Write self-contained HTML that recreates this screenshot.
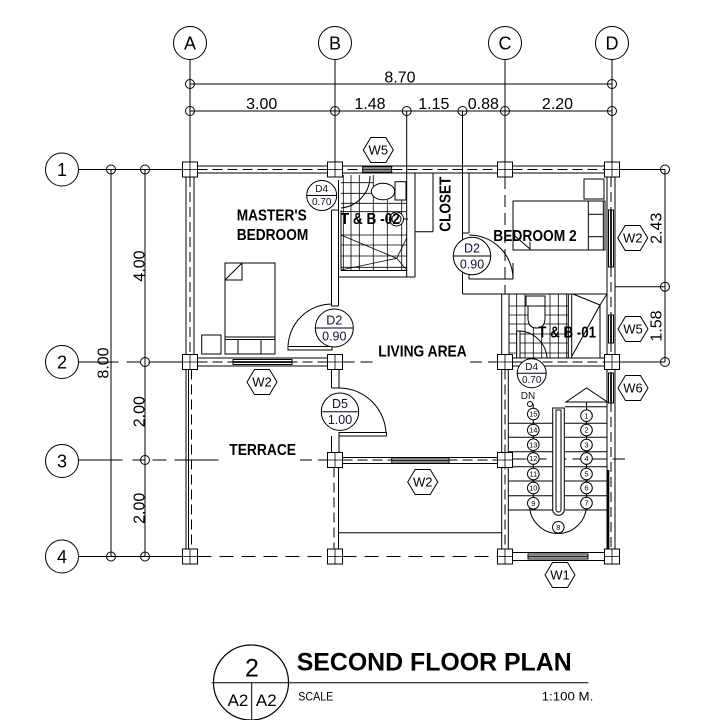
<!DOCTYPE html>
<html><head><meta charset="utf-8"><style>html,body{margin:0;padding:0;background:#fff}svg{display:block}</style></head>
<body>
<svg width="703" height="720" viewBox="0 0 703 720" xmlns="http://www.w3.org/2000/svg" font-family="'Liberation Sans', Arial, sans-serif">
<rect width="703" height="720" fill="#fff"/>
<g stroke="#000" stroke-width="1" fill="none">
<!-- top grid bubbles -->
<circle cx="190" cy="43" r="16.5"/><circle cx="335" cy="43" r="16.5"/><circle cx="505" cy="43" r="16.5"/><circle cx="612" cy="43" r="16.5"/>
<line x1="190" y1="59.5" x2="190" y2="162"/><line x1="335" y1="59.5" x2="335" y2="162"/><line x1="505" y1="59.5" x2="505" y2="162"/><line x1="612" y1="59.5" x2="612" y2="162"/>
<line x1="406.7" y1="111" x2="406.7" y2="277"/><line x1="462.5" y1="111" x2="462.5" y2="294"/>
<!-- dim lines top -->
<line x1="190" y1="84" x2="612" y2="84"/><line x1="190" y1="111" x2="612" y2="111"/>
<circle cx="190" cy="84" r="4.5"/><circle cx="612" cy="84" r="4.5"/>
<circle cx="190" cy="111" r="4.5"/><circle cx="335" cy="111" r="4.5"/><circle cx="406.7" cy="111" r="4.5"/><circle cx="462.5" cy="111" r="4.5"/><circle cx="505" cy="111" r="4.5"/><circle cx="612" cy="111" r="4.5"/>
<!-- left grid bubbles -->
<circle cx="62" cy="169.5" r="16.5"/><circle cx="62" cy="362" r="16.5"/><circle cx="62" cy="461" r="16.5"/><circle cx="62" cy="556.5" r="16.5"/>
<line x1="78.5" y1="169.5" x2="182.5" y2="169.5"/>
<line x1="78.5" y1="556.5" x2="182.5" y2="556.5"/>
<line x1="78.5" y1="362" x2="182.5" y2="362" stroke-dasharray="40 8 14 8"/>
<line x1="78.5" y1="460" x2="222" y2="460" stroke-dasharray="44 10 12 8 14 8"/>
<line x1="300" y1="460" x2="327.5" y2="460" stroke-dasharray="12 6"/>
<!-- left dims -->
<line x1="111" y1="169.5" x2="111" y2="556.5"/><line x1="145" y1="169.5" x2="145" y2="556.5"/>
<circle cx="111" cy="169.5" r="4.5"/><circle cx="111" cy="556.5" r="4.5"/>
<circle cx="145" cy="169.5" r="4.5"/><circle cx="145" cy="362" r="4.5"/><circle cx="145" cy="460" r="4.5"/><circle cx="145" cy="556.5" r="4.5"/>
<!-- right dims -->
<line x1="619.5" y1="169.5" x2="665" y2="169.5"/><line x1="615" y1="286.7" x2="665" y2="286.7"/><line x1="619.5" y1="362" x2="665" y2="362"/>
<line x1="665" y1="169.5" x2="665" y2="362"/>
<circle cx="665" cy="169.5" r="4.5"/><circle cx="665" cy="286.7" r="4.5"/><circle cx="665" cy="362" r="4.5"/>

<!-- top wall row 1 -->
<line x1="197.5" y1="166" x2="604.5" y2="166"/><line x1="197.5" y1="173" x2="604.5" y2="173"/>
<line x1="197.5" y1="169.5" x2="604.5" y2="169.5" stroke-dasharray="10 5"/>
<!-- left wall A -->
<line x1="186" y1="177" x2="186" y2="549"/><line x1="194" y1="177" x2="194" y2="354.5"/>
<line x1="190" y1="177" x2="190" y2="354.5" stroke-dasharray="10 5"/>
<line x1="188.5" y1="369.5" x2="188.5" y2="549"/>
<line x1="191.5" y1="369.5" x2="191.5" y2="549" stroke-dasharray="10 5"/>
<!-- right wall D -->
<line x1="607" y1="177" x2="607" y2="549"/><line x1="615" y1="177" x2="615" y2="549"/>
<line x1="611" y1="177" x2="611" y2="549" stroke-dasharray="10 5"/>
<line x1="608.3" y1="470" x2="608.3" y2="553" stroke-width="2"/>
<!-- row 2 wall A-B -->
<line x1="197.5" y1="358" x2="327.5" y2="358"/><line x1="197.5" y1="366" x2="327.5" y2="366"/>
<line x1="197.5" y1="362" x2="327.5" y2="362" stroke-dasharray="10 5"/>
<!-- row 2 dashed B-C -->
<line x1="342.5" y1="362" x2="376" y2="362" stroke-dasharray="12 6"/>
<line x1="470" y1="362" x2="497.5" y2="362" stroke-dasharray="12 6"/>
<!-- row 2 wall C-D -->
<line x1="512.5" y1="358" x2="604.5" y2="358"/><line x1="512.5" y1="366" x2="604.5" y2="366"/>
<line x1="512.5" y1="362" x2="604.5" y2="362" stroke-dasharray="10 5"/>
<!-- row 3 wall B-C -->
<line x1="342.5" y1="457.5" x2="497.5" y2="457.5"/><line x1="342.5" y1="463.5" x2="497.5" y2="463.5"/>
<line x1="342.5" y1="460" x2="497.5" y2="460" stroke-dasharray="10 5"/>
<!-- row 3 dashed through stairs -->
<line x1="512.5" y1="459" x2="625" y2="459" stroke-dasharray="14 6"/>
<!-- row 4 -->
<line x1="197.5" y1="556.5" x2="327.5" y2="556.5" stroke-dasharray="14 8"/>
<line x1="342.5" y1="556.5" x2="497.5" y2="556.5" stroke-dasharray="14 8"/>
<line x1="512.5" y1="552.5" x2="604.5" y2="552.5"/><line x1="512.5" y1="560.5" x2="604.5" y2="560.5"/>
<!-- B line walls -->
<line x1="331.5" y1="210" x2="331.5" y2="306"/><line x1="338.5" y1="180" x2="338.5" y2="306"/>
<line x1="331.5" y1="210" x2="338.5" y2="210"/><line x1="331.5" y1="306" x2="338.5" y2="306"/>
<line x1="331.5" y1="369.5" x2="331.5" y2="388"/><line x1="339" y1="369.5" x2="339" y2="388"/>
<line x1="331.5" y1="388" x2="339" y2="388"/>
<line x1="331.5" y1="436" x2="331.5" y2="452.5"/><line x1="339" y1="436" x2="339" y2="452.5"/>
<line x1="338.5" y1="467.5" x2="338.5" y2="549"/>
<line x1="334" y1="467.5" x2="334" y2="549" stroke-dasharray="10 5"/>
<line x1="339" y1="532.7" x2="501.7" y2="532.7"/>
<!-- C line walls -->
<line x1="505" y1="177" x2="505" y2="294" stroke-dasharray="12 6"/>
<line x1="501.7" y1="294" x2="501.7" y2="354.5"/><line x1="509" y1="294" x2="509" y2="354.5"/>
<line x1="501.7" y1="369.5" x2="501.7" y2="549"/><line x1="508.3" y1="369.5" x2="508.3" y2="549"/>
<line x1="505" y1="369.5" x2="505" y2="549" stroke-dasharray="10 5"/>

<!-- T&B-02 -->
<line x1="415" y1="173" x2="415" y2="277"/>
<line x1="338.5" y1="277" x2="415" y2="277"/><line x1="341" y1="270.5" x2="406.7" y2="270.5"/>
<line x1="341" y1="210" x2="341" y2="270.5"/>
<g stroke-width="0.8">
<line x1="343.3" y1="175" x2="343.3" y2="270"/><line x1="351" y1="175" x2="351" y2="270"/><line x1="359.3" y1="175" x2="359.3" y2="270"/><line x1="373.3" y1="175" x2="373.3" y2="270"/><line x1="387.3" y1="200" x2="387.3" y2="270"/><line x1="401.7" y1="200" x2="401.7" y2="270"/>
<line x1="341" y1="182.7" x2="373" y2="182.7"/><line x1="341" y1="193.3" x2="373" y2="193.3"/><line x1="341" y1="203.3" x2="406.7" y2="203.3"/><line x1="341" y1="211.7" x2="406.7" y2="211.7"/><line x1="341" y1="235" x2="406.7" y2="235"/><line x1="341" y1="245" x2="406.7" y2="245"/><line x1="341" y1="256" x2="406.7" y2="256"/><line x1="341" y1="267.3" x2="406.7" y2="267.3"/>
<line x1="341" y1="235" x2="396.7" y2="258.3"/><line x1="341" y1="270" x2="396.7" y2="258.3"/><line x1="396.7" y1="258.3" x2="406.7" y2="238"/><line x1="396.7" y1="258.3" x2="406.7" y2="270"/>
</g>
<rect x="395" y="181.7" width="11" height="18.3" fill="#fff"/>
<ellipse cx="383" cy="191.5" rx="11.7" ry="8.3" fill="#fff"/>
<circle cx="396.5" cy="219" r="7" fill="#fff"/><circle cx="396.5" cy="219" r="4.5"/>
<line x1="403" y1="219" x2="408" y2="219"/>
<path d="M370,176 A32,32 0 0 1 341,208"/>
<!-- closet -->
<line x1="415" y1="231.7" x2="433" y2="231.7"/><line x1="433" y1="173" x2="433" y2="231.7"/>
<!-- master bedroom furniture -->
<rect x="225" y="263" width="50" height="91" fill="#fff"/>
<rect x="225" y="263" width="17" height="17"/><line x1="242" y1="263" x2="225" y2="280"/>
<line x1="225" y1="337" x2="275" y2="337"/><line x1="225" y1="339.5" x2="275" y2="339.5"/>
<rect x="238" y="339.5" width="23" height="14.5"/>
<rect x="201.7" y="335" width="19.3" height="19"/>
<!-- master door D2 -->
<path d="M288,348 A44,44 0 0 1 332,304"/>
<rect x="288" y="346.5" width="44" height="3.5" fill="#fff"/>
<!-- bedroom 2 -->
<line x1="469" y1="173" x2="469" y2="233"/><line x1="462.5" y1="233" x2="469" y2="233"/>
<path d="M469,235 A44,44 0 0 1 513,279"/>
<line x1="513" y1="263" x2="513" y2="279"/>
<line x1="469" y1="279" x2="513" y2="279"/><line x1="469" y1="265" x2="469" y2="279"/>
<line x1="462.5" y1="294" x2="607" y2="294"/>
<rect x="513" y="201" width="92" height="49" fill="#fff"/>
<line x1="588.3" y1="201" x2="588.3" y2="250"/><line x1="603.3" y1="201" x2="603.3" y2="250"/>
<line x1="588.3" y1="214.3" x2="603.3" y2="214.3"/><line x1="588.3" y1="236.7" x2="603.3" y2="236.7"/>
<line x1="530" y1="241.7" x2="530" y2="250"/><line x1="515" y1="236" x2="530" y2="249"/>
<rect x="584" y="179" width="20" height="20"/>
<!-- T&B-01 -->
<g stroke-width="0.8">
<line x1="516.7" y1="294" x2="516.7" y2="358"/><line x1="525" y1="294" x2="525" y2="358"/><line x1="533.3" y1="328" x2="533.3" y2="358"/><line x1="541.7" y1="328" x2="541.7" y2="358"/><line x1="550" y1="294" x2="550" y2="358"/><line x1="558.3" y1="294" x2="558.3" y2="358"/><line x1="566.7" y1="294" x2="566.7" y2="358"/>
<line x1="509" y1="306" x2="568" y2="306"/><line x1="509" y1="315" x2="568" y2="315"/><line x1="509" y1="324" x2="568" y2="324"/><line x1="509" y1="334" x2="568" y2="334"/><line x1="509" y1="343" x2="568" y2="343"/><line x1="509" y1="353" x2="568" y2="353"/>
</g>
<line x1="568.3" y1="294" x2="568.3" y2="358"/><line x1="571.7" y1="294" x2="571.7" y2="358"/>
<line x1="573" y1="294" x2="600" y2="305"/><line x1="600" y1="305" x2="607" y2="294"/><line x1="600" y1="305" x2="572" y2="356"/><line x1="600" y1="305" x2="600" y2="358"/>
<rect x="526" y="296" width="19" height="10" fill="#fff"/>
<path d="M528,306 L528,318 Q528,328 536.5,328 Q545,328 545,318 L545,306 Z" fill="#fff"/>
<rect x="516.7" y="331" width="3.3" height="27" fill="#fff"/>
<path d="M520,331 A29,29 0 0 1 547,358"/>
<!-- terrace door D5 -->
<path d="M339,388 A47,47 0 0 1 386,435"/>
<rect x="339" y="432.5" width="47.5" height="3.5" fill="#fff"/>
<!-- stairs -->
<line x1="565" y1="406.7" x2="607" y2="406.7"/>
<line x1="508.3" y1="423.3" x2="552.7" y2="423.3"/><line x1="565" y1="423.3" x2="607" y2="423.3"/>
<line x1="508.3" y1="437.3" x2="552.7" y2="437.3"/><line x1="565" y1="437.3" x2="607" y2="437.3"/>
<line x1="508.3" y1="451.7" x2="552.7" y2="451.7"/><line x1="565" y1="451.7" x2="607" y2="451.7"/>
<line x1="508.3" y1="466.7" x2="552.7" y2="466.7"/><line x1="565" y1="466.7" x2="607" y2="466.7"/>
<line x1="508.3" y1="481" x2="552.7" y2="481"/><line x1="565" y1="481" x2="607" y2="481"/>
<line x1="508.3" y1="495.7" x2="552.7" y2="495.7"/><line x1="565" y1="495.7" x2="607" y2="495.7"/>
<line x1="508.3" y1="510" x2="552.7" y2="510"/><line x1="565" y1="510" x2="607" y2="510"/>
<path d="M529.5,505 A28.5,28.5 0 0 0 586.5,505"/>
<line x1="533.3" y1="404" x2="533.3" y2="505"/><line x1="586.5" y1="388" x2="586.5" y2="505"/>
<path d="M552.7,408 V509.5 A5.8,5.8 0 0 0 564.3,509.5 V408 Z" fill="#fff"/>
<path d="M556,410 V509.5 A2.5,2.5 0 0 0 561,509.5 V410 Z"/>
<polygon points="566,402 586.5,388 607.5,402" fill="#fff"/>
<circle cx="530" cy="404" r="2.5" fill="#fff"/>
</g>

<!-- windows -->
<g stroke="#000" fill="#fff">
<rect x="362.7" y="167" width="29" height="5"/>
<rect x="233" y="359.5" width="59" height="5"/>
<rect x="391.7" y="458" width="57.3" height="5"/>
<rect x="528" y="554" width="60" height="5"/>
<rect x="608.5" y="210" width="5" height="57"/>
<rect x="608.5" y="315" width="5" height="28"/>
<rect x="608.5" y="373" width="5" height="30"/>
</g>
<g stroke="#222" stroke-width="2">
<line x1="362.7" y1="169.5" x2="391.7" y2="169.5"/>
<line x1="233" y1="362" x2="292" y2="362"/>
<line x1="391.7" y1="460.5" x2="449" y2="460.5"/>
<line x1="528" y1="556.5" x2="588" y2="556.5"/>
<line x1="611" y1="210" x2="611" y2="267"/>
<line x1="611" y1="315" x2="611" y2="343"/>
<line x1="611" y1="373" x2="611" y2="403"/>
</g>

<!-- columns -->
<g stroke="#000" fill="#fff">
<rect x="182.5" y="162" width="15" height="15"/><rect x="327.5" y="162" width="15" height="15"/><rect x="497.5" y="162" width="15" height="15"/><rect x="604.5" y="162" width="15" height="15"/>
<rect x="182.5" y="354.5" width="15" height="15"/><rect x="327.5" y="354.5" width="15" height="15"/><rect x="497.5" y="354.5" width="15" height="15"/><rect x="604.5" y="354.5" width="15" height="15"/>
<rect x="327.5" y="452.5" width="15" height="15"/><rect x="497.5" y="452.5" width="15" height="15"/>
<rect x="182.5" y="549" width="15" height="15"/><rect x="327.5" y="549" width="15" height="15"/><rect x="497.5" y="549" width="15" height="15"/><rect x="604.5" y="549" width="15" height="15"/>
</g>
<g stroke="#000" stroke-width="0.8">
<path d="M190,162v15M182.5,169.5h15M335,162v15M327.5,169.5h15M505,162v15M497.5,169.5h15M612,162v15M604.5,169.5h15"/>
<path d="M190,354.5v15M182.5,362h15M335,354.5v15M327.5,362h15M505,354.5v15M497.5,362h15M612,354.5v15M604.5,362h15"/>
<path d="M335,452.5v15M327.5,460h15M505,452.5v15M497.5,460h15"/>
<path d="M190,549v15M182.5,556.5h15M335,549v15M327.5,556.5h15M505,549v15M497.5,556.5h15M612,549v15M604.5,556.5h15"/>
</g>

<!-- door tags -->
<g stroke="#000" fill="#fff">
<circle cx="321.7" cy="195.5" r="15"/><circle cx="334.3" cy="328" r="19"/><circle cx="472" cy="256" r="18.7"/><circle cx="340" cy="411.7" r="18.7"/><circle cx="531.7" cy="373.3" r="14.5"/>
</g>
<g stroke="#000">
<line x1="306.7" y1="195.5" x2="336.7" y2="195.5"/><line x1="315.3" y1="328" x2="353.3" y2="328"/><line x1="453.3" y1="256" x2="490.7" y2="256"/><line x1="321.3" y1="411.7" x2="358.7" y2="411.7"/><line x1="517.2" y1="373.3" x2="546.2" y2="373.3"/>
</g>
<g fill="#111133" text-anchor="middle">
<text x="321.7" y="192" font-size="10">D4</text><text x="321.7" y="205" font-size="10">0.70</text>
<text x="334.3" y="324.5" font-size="12.5">D2</text><text x="334.3" y="340.5" font-size="12.5">0.90</text>
<text x="472" y="252.5" font-size="12.5">D2</text><text x="472" y="268.5" font-size="12.5">0.90</text>
<text x="340" y="408" font-size="12.5">D5</text><text x="340" y="424" font-size="12.5">1.00</text>
<text x="531.7" y="370" font-size="10">D4</text><text x="531.7" y="383" font-size="10">0.70</text>
<text x="528" y="399" font-size="10">DN</text>
</g>

<!-- window hex tags -->
<g stroke="#000" fill="#fff">
<polygon points="363.3,150 370.8,137.5 385.8,137.5 393.3,150 385.8,162.5 370.8,162.5"/>
<polygon points="247,382 254.5,369.5 269.5,369.5 277,382 269.5,394.5 254.5,394.5"/>
<polygon points="407.7,482 415.2,469.5 430.2,469.5 437.7,482 430.2,494.5 415.2,494.5"/>
<polygon points="617.7,238 625.2,225.5 640.2,225.5 647.7,238 640.2,250.5 625.2,250.5"/>
<polygon points="618,329 625.5,316.5 640.5,316.5 648,329 640.5,341.5 625.5,341.5"/>
<polygon points="618,388 625.5,375.5 640.5,375.5 648,388 640.5,400.5 625.5,400.5"/>
<polygon points="545,575 552.5,562.5 567.5,562.5 575,575 567.5,587.5 552.5,587.5"/>
</g>
<g fill="#000" text-anchor="middle" font-size="13">
<text x="378.3" y="154.5">W5</text><text x="262" y="386.5">W2</text><text x="422.7" y="486.5">W2</text><text x="632.7" y="242.5">W2</text><text x="633" y="333.5">W5</text><text x="633" y="392.5">W6</text><text x="560" y="579.5">W1</text>
</g>

<!-- stair numbers -->
<g stroke="#000" fill="#fff">
<circle cx="533.3" cy="414" r="5.8"/><circle cx="533.3" cy="430" r="5.8"/><circle cx="533.3" cy="444.7" r="5.8"/><circle cx="533.3" cy="458.5" r="5.8"/><circle cx="533.3" cy="474" r="5.8"/><circle cx="533.3" cy="488" r="5.8"/><circle cx="533.3" cy="503.3" r="5.8"/>
<circle cx="586.5" cy="415.7" r="5.8"/><circle cx="586.5" cy="430" r="5.8"/><circle cx="586.5" cy="445" r="5.8"/><circle cx="586.5" cy="458.5" r="5.8"/><circle cx="586.5" cy="474" r="5.8"/><circle cx="586.5" cy="488" r="5.8"/><circle cx="586.5" cy="503" r="5.8"/>
<circle cx="558.3" cy="527.3" r="5.8"/>
</g>
<g fill="#000" text-anchor="middle" font-size="7.5">
<text x="533.3" y="416.7">15</text><text x="533.3" y="432.7">14</text><text x="533.3" y="447.4">13</text><text x="533.3" y="461.2">12</text><text x="533.3" y="476.7">11</text><text x="533.3" y="490.7">10</text><text x="533.3" y="506">9</text>
<text x="586.5" y="418.4">1</text><text x="586.5" y="432.7">2</text><text x="586.5" y="447.7">3</text><text x="586.5" y="461.2">4</text><text x="586.5" y="476.7">5</text><text x="586.5" y="490.7">6</text><text x="586.5" y="505.7">7</text>
<text x="558.3" y="530">8</text>
</g>

<!-- grid labels -->
<g fill="#000" text-anchor="middle" font-size="18">
<text x="190" y="49.5">A</text><text x="335" y="49.5">B</text><text x="505" y="49.5">C</text><text x="612" y="49.5">D</text>
<text x="62" y="176">1</text><text x="62" y="368.5">2</text><text x="62" y="467.5">3</text><text x="62" y="563">4</text>
</g>
<!-- dimension text -->
<g fill="#000" text-anchor="middle" font-size="16">
<text x="400" y="82.5">8.70</text>
<text x="261.7" y="109">3.00</text><text x="370" y="109">1.48</text><text x="433.8" y="109">1.15</text><text x="483.3" y="109">0.88</text><text x="557.5" y="109">2.20</text>
<text transform="translate(144.5,266) rotate(-90)">4.00</text>
<text transform="translate(108.5,363) rotate(-90)">8.00</text>
<text transform="translate(144.5,411.7) rotate(-90)">2.00</text>
<text transform="translate(144.5,508.3) rotate(-90)">2.00</text>
<text transform="translate(661.7,228.3) rotate(-90)">2.43</text>
<text transform="translate(661.7,326) rotate(-90)">1.58</text>
</g>
<!-- room labels -->
<g fill="#000" font-weight="bold" font-size="16">
<text x="236.7" y="220.7" textLength="70" lengthAdjust="spacingAndGlyphs">MASTER'S</text>
<text x="236.7" y="240" textLength="71.6" lengthAdjust="spacingAndGlyphs">BEDROOM</text>
<text x="378.3" y="356.7" textLength="88.4" lengthAdjust="spacingAndGlyphs">LIVING AREA</text>
<text x="229.3" y="455" textLength="66.7" lengthAdjust="spacingAndGlyphs">TERRACE</text>
<text x="493.3" y="241" textLength="83.4" lengthAdjust="spacingAndGlyphs">BEDROOM 2</text>
<text x="340.7" y="224" textLength="59.3" lengthAdjust="spacingAndGlyphs">T &amp; B -02</text>
<text x="538.3" y="337.7" textLength="57.7" lengthAdjust="spacingAndGlyphs">T &amp; B -01</text>
<text transform="translate(450.7,231.7) rotate(-90)" textLength="55" lengthAdjust="spacingAndGlyphs">CLOSET</text>
</g>

<!-- title block -->
<g stroke="#000" fill="none">
<circle cx="251" cy="682.5" r="37.5" stroke-width="1.2"/>
<line x1="211.7" y1="682.7" x2="588.3" y2="682.7"/>
<line x1="251.7" y1="682.7" x2="251.7" y2="720"/>
</g>
<text x="252" y="676.5" font-size="25" text-anchor="middle" fill="#000">2</text>
<text x="238" y="706" font-size="17" text-anchor="middle" fill="#000">A2</text>
<text x="266.3" y="706" font-size="17" text-anchor="middle" fill="#000">A2</text>
<text x="296.7" y="670.7" font-size="25" font-weight="bold" fill="#000" textLength="275" lengthAdjust="spacingAndGlyphs">SECOND FLOOR PLAN</text>
<text x="298.3" y="700.7" font-size="12" fill="#000" textLength="35" lengthAdjust="spacingAndGlyphs">SCALE</text>
<text x="541.7" y="700.7" font-size="12" fill="#000" textLength="51.6" lengthAdjust="spacingAndGlyphs">1:100 M.</text>
</svg>
</body></html>
